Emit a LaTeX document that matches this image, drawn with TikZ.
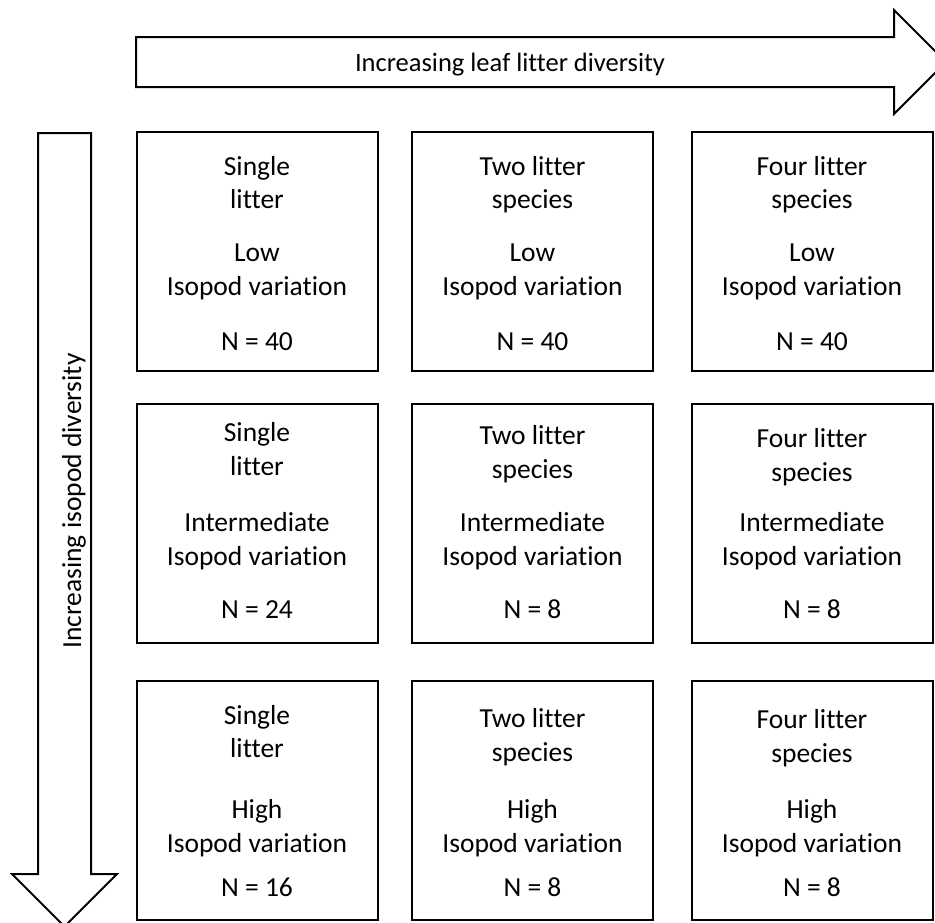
\documentclass[tikz,border=0pt]{standalone}
\usepackage{fontspec}
\setmainfont{Carlito}[Ligatures=NoCommon]
\tikzset{
  cell/.style={draw, line width=2pt, minimum width=241pt, minimum height=239pt, inner sep=0pt},
  txt/.style={anchor=base, inner sep=0pt, font=\fontsize{27.5}{33}\selectfont},
  bigarrow/.style={draw, line width=2pt, line join=miter}
}
\begin{document}
\begin{tikzpicture}[x=1pt,y=-1pt]
\useasboundingbox (0,0) rectangle (935,922);
% the two axis arrows
\draw[bigarrow] (136,37) -- (894,37) -- (894,10) -- (946,62) -- (894,114)
  -- (894,87) -- (136,87) -- cycle;
\draw[bigarrow] (38,133) -- (91,133) -- (91,874) -- (117,874) -- (64.5,926.5)
  -- (12,874) -- (38,874) -- cycle;
\node (leaf) at (510,71) [txt, font=\fontsize{26.5}{33}\selectfont] {Increasing leaf litter diversity};
\node (iso) at (81,501) [txt, rotate=90] {Increasing isopod diversity};
% boxes
\node (b11) at (257,251) [cell] {}; \node (b12) at (532.5,251) [cell] {};
\node (b13) at (812,251) [cell] {};
\node (b21) at (257,523.5) [cell] {}; \node (b22) at (532.5,523.5) [cell] {};
\node (b23) at (812,523.5) [cell] {};
\node (b31) at (257,800) [cell] {}; \node (b32) at (532.5,800) [cell] {};
\node (b33) at (812,800) [cell] {};
% row 1: low isopod variation
\node (s11a) at (257,175) [txt] {Single}; \node (s11b) at (257,208) [txt] {litter};
\node (v11a) at (257,261) [txt] {Low}; \node (v11b) at (257,295) [txt] {Isopod variation};
\node (n11) at (257,350) [txt] {N = 40};
\node (s12a) at (532.5,175) [txt] {Two litter}; \node (s12b) at (532.5,208) [txt] {species};
\node (v12a) at (532.5,261) [txt] {Low}; \node (v12b) at (532.5,295) [txt] {Isopod variation};
\node (n12) at (532.5,350) [txt] {N = 40};
\node (s13a) at (812,175) [txt] {Four litter}; \node (s13b) at (812,208) [txt] {species};
\node (v13a) at (812,261) [txt] {Low}; \node (v13b) at (812,295) [txt] {Isopod variation};
\node (n13) at (812,350) [txt] {N = 40};
% row 2: intermediate isopod variation
\node (s21a) at (257,441) [txt] {Single}; \node (s21b) at (257,475) [txt] {litter};
\node (v21a) at (257,531) [txt] {Intermediate}; \node (v21b) at (257,565) [txt] {Isopod variation};
\node (n21) at (257,618) [txt] {N = 24};
\node (s22a) at (532.5,444) [txt] {Two litter}; \node (s22b) at (532.5,478) [txt] {species};
\node (v22a) at (532.5,531) [txt] {Intermediate}; \node (v22b) at (532.5,565) [txt] {Isopod variation};
\node (n22) at (532.5,618) [txt] {N = 8};
\node (s23a) at (812,447) [txt] {Four litter}; \node (s23b) at (812,481) [txt] {species};
\node (v23a) at (812,531) [txt] {Intermediate}; \node (v23b) at (812,565) [txt] {Isopod variation};
\node (n23) at (812,618) [txt] {N = 8};
% row 3: high isopod variation
\node (s31a) at (257,724) [txt] {Single}; \node (s31b) at (257,757) [txt] {litter};
\node (v31a) at (257,818) [txt] {High}; \node (v31b) at (257,852) [txt] {Isopod variation};
\node (n31) at (257,896) [txt] {N = 16};
\node (s32a) at (532.5,727) [txt] {Two litter}; \node (s32b) at (532.5,761) [txt] {species};
\node (v32a) at (532.5,818) [txt] {High}; \node (v32b) at (532.5,852) [txt] {Isopod variation};
\node (n32) at (532.5,896) [txt] {N = 8};
\node (s33a) at (812,728) [txt] {Four litter}; \node (s33b) at (812,762) [txt] {species};
\node (v33a) at (812,818) [txt] {High}; \node (v33b) at (812,852) [txt] {Isopod variation};
\node (n33) at (812,896) [txt] {N = 8};
\end{tikzpicture}
\end{document}
